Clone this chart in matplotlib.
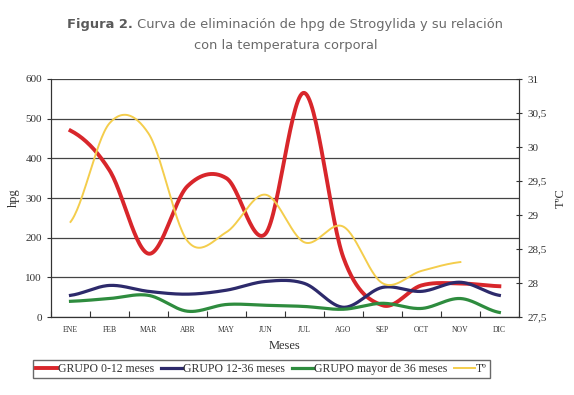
import numpy as np
import matplotlib
matplotlib.use("Agg")
import matplotlib.pyplot as plt

# datos
meses = ["ENE", "FEB", "MAR", "ABR", "MAY", "JUN", "JUL", "AGO", "SEP", "OCT", "NOV", "DIC"]
g_0_12 = [470, 370, 160, 330, 350, 210, 565, 150, 30, 80, 85, 78]
g_12_36 = [55, 80, 65, 58, 68, 90, 85, 25, 75, 65, 88, 55]
g_36 = [40, 47, 55, 15, 32, 30, 27, 20, 35, 22, 47, 12]
temp = [28.9, 30.35, 30.2, 28.62, 28.75, 29.3, 28.6, 28.83, 28.0, 28.18, 28.31]


def suave(y, n=30):
    # Catmull-Rom, como las lineas suavizadas de Excel
    y = np.asarray(y, dtype=float)
    x = np.arange(len(y), dtype=float)
    p = np.concatenate([[y[0]], y, [y[-1]]])
    xs, ys = [], []
    t = np.linspace(0, 1, n, endpoint=False)
    for i in range(len(y) - 1):
        p0, p1, p2, p3 = p[i], p[i+1], p[i+2], p[i+3]
        yy = 0.5 * ((2*p1) + (-p0 + p2)*t + (2*p0 - 5*p1 + 4*p2 - p3)*t**2
                    + (-p0 + 3*p1 - 3*p2 + p3)*t**3)
        xs.append(x[i] + t)
        ys.append(yy)
    xs.append([x[-1]])
    ys.append([y[-1]])
    return np.concatenate(xs), np.concatenate(ys)


serif = "Liberation Serif"
fig = plt.figure(figsize=(5.74, 3.95), dpi=100)
ax = fig.add_axes([0.0889, 0.197, 0.815, 0.603])
ax2 = ax.twinx()

lineas = []
for datos, col, lw, lab in [(g_0_12, "#d8262b", 2.8, "GRUPO 0-12 meses"),
                            (g_12_36, "#2d2a6b", 2.3, "GRUPO 12-36 meses"),
                            (g_36, "#2e8c3e", 2.3, "GRUPO mayor de 36 meses")]:
    xs, ys = suave(datos)
    l, = ax.plot(xs, ys, color=col, lw=lw, label=lab, zorder=3)
    lineas.append(l)
xs, ys = suave(temp)
l, = ax2.plot(xs, ys, color="#f4cd4c", lw=1.4, label="T\u00ba")
lineas.append(l)

ax.set_xlim(-0.5, 11.5)
ax.set_ylim(0, 600)
ax.set_yticks(range(0, 601, 100))
ax2.set_ylim(27.5, 31)
ax2.set_yticks(np.arange(27.5, 31.01, 0.5))
ax2.set_yticklabels([f"{v:g}".replace(".", ",") for v in np.arange(27.5, 31.01, 0.5)])

ax.set_xticks(np.arange(-0.5, 12, 1))
ax.set_xticklabels([])
ax.set_xticks(range(12), minor=True)
ax.set_xticklabels(meses, minor=True, fontsize=5.5, family=serif, color="#333333")
ax.tick_params(axis="x", which="major", direction="in", length=4, color="#333333")
ax.tick_params(axis="x", which="minor", length=0, pad=6)
ax.tick_params(axis="y", direction="out", length=3, labelsize=8, color="#333333", labelcolor="#333333")
ax2.tick_params(axis="y", direction="inout", length=5, labelsize=8, color="#333333", labelcolor="#333333")
for t in ax.get_yticklabels() + ax2.get_yticklabels():
    t.set_family(serif)

ax.grid(axis="y", color="#444444", lw=0.9)
ax.set_axisbelow(True)
for a in (ax, ax2):
    a.spines["top"].set_visible(False)
    a.spines["left"].set_color("#333333")
    a.spines["right"].set_color("#333333")
    a.spines["bottom"].set_color("#333333")

ax.set_ylabel("hpg", family=serif, fontsize=9, color="#333333", labelpad=4)
ax2.set_ylabel("T\u00baC", family=serif, fontsize=9, color="#333333", labelpad=6)
ax.set_xlabel("Meses", family=serif, fontsize=9, color="#333333", labelpad=5)

leg = fig.legend(handles=lineas, loc="center", bbox_to_anchor=(0.4556, 0.066), ncol=4,
                 frameon=True, fancybox=False, handlelength=1.8, handletextpad=0.05,
                 columnspacing=0.6, borderpad=0.25, borderaxespad=0,
                 prop={"family": serif, "size": 8.5})
leg.get_frame().set_edgecolor("#444444")
leg.get_frame().set_linewidth(1.0)
for t in leg.get_texts():
    t.set_color("#333333")

# titulo: "Figura 2." en negrita y el resto normal
fig.canvas.draw()
r = fig.canvas.get_renderer()
t1 = fig.text(0, 0.939, "Figura 2.", fontsize=9.4, weight="bold", family="DejaVu Sans",
              color="#5a5a5a", va="center")
t2 = fig.text(0, 0.939, " Curva de eliminaci\u00f3n de hpg de Strogylida y su relaci\u00f3n",
              fontsize=9.4, family="DejaVu Sans", color="#6a6a6a", va="center")
w1 = t1.get_window_extent(r).width
w2 = t2.get_window_extent(r).width
x0 = 285 - (w1 + w2) / 2
t1.set_x(x0 / 574)
t2.set_x((x0 + w1) / 574)
fig.text(285.5 / 574, 0.884, "con la temperatura corporal", fontsize=9.4, family="DejaVu Sans",
         color="#6a6a6a", ha="center", va="center")

fig.savefig("out.png", dpi=100)
